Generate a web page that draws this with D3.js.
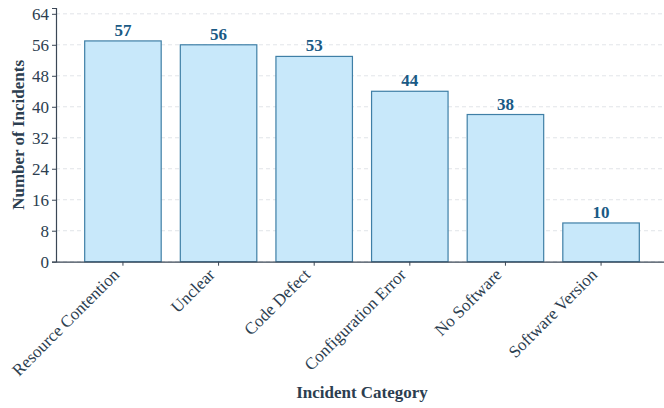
<!DOCTYPE html>
<html>
<head>
<meta charset="utf-8">
<script src="https://cdn.jsdelivr.net/npm/d3@7"></script>
<style>
  html, body { margin: 0; padding: 0; background: #fff; }
  svg { display: block; font-family: "Liberation Serif", "Times New Roman", serif; }
</style>
</head>
<body>
<svg id="chart" width="664" height="408"></svg>
<script>
// Incident counts by category
const categories = ["Resource Contention", "Unclear", "Code Defect", "Configuration Error", "No Software", "Software Version"];
const counts = [57, 56, 53, 44, 38, 10];
const yTicks = [0, 8, 16, 24, 32, 40, 48, 56, 64];

const svg = d3.select("#chart");
const plotLeft = 56, plotRight = 668, plotTop = 8, plotBottom = 261.7;

const x = d3.scaleBand()
  .domain(categories)
  .range([plotLeft, plotRight])
  .paddingInner(0.2)
  .paddingOuter(0.3);

const y = d3.scaleLinear()
  .domain([0, 65.5])
  .range([plotBottom, plotTop]);

// horizontal grid
svg.append("g")
  .selectAll("line")
  .data(yTicks)
  .join("line")
  .attr("x1", plotLeft)
  .attr("x2", 664)
  .attr("y1", d => y(d))
  .attr("y2", d => y(d))
  .attr("stroke", "#d9dde2")
  .attr("stroke-width", 0.8)
  .attr("stroke-dasharray", "4,3");

// bars
svg.append("g")
  .selectAll("rect")
  .data(categories)
  .join("rect")
  .attr("x", d => x(d))
  .attr("y", (d, i) => y(counts[i]))
  .attr("width", x.bandwidth())
  .attr("height", (d, i) => y(0) - y(counts[i]))
  .attr("fill", "#c8e8fa")
  .attr("stroke", "#3f7fa6")
  .attr("stroke-width", 1.2);

// value labels
svg.append("g")
  .selectAll("text")
  .data(categories)
  .join("text")
  .attr("x", d => x(d) + x.bandwidth() / 2)
  .attr("y", (d, i) => y(counts[i]) - 5)
  .attr("text-anchor", "middle")
  .attr("font-size", 17)
  .attr("font-weight", "bold")
  .attr("fill", "#1a5a85")
  .text((d, i) => counts[i]);

// y axis
const yAxis = svg.append("g")
  .attr("transform", `translate(${plotLeft},0)`)
  .call(d3.axisLeft(y).tickValues(yTicks).tickSize(4).tickPadding(3));
yAxis.select(".domain").attr("stroke", "#3b4756").attr("stroke-width", 1.2);
yAxis.selectAll(".tick line").attr("stroke", "#3b4756");
yAxis.selectAll(".tick text")
  .attr("font-family", "Liberation Serif, serif")
  .attr("font-size", 17)
  .attr("fill", "#2c3e50");

// x axis
const xAxis = svg.append("g")
  .attr("transform", `translate(0,${plotBottom})`)
  .call(d3.axisBottom(x).tickSize(4).tickSizeOuter(0).tickPadding(4));
xAxis.select(".domain").attr("stroke", "#3b4756").attr("stroke-width", 1.2);
xAxis.selectAll(".tick line").attr("stroke", "#3b4756");
xAxis.selectAll(".tick text")
  .attr("font-family", "Liberation Serif, serif")
  .attr("font-size", 17)
  .attr("fill", "#2c3e50")
  .attr("text-anchor", "end")
  .attr("dx", "-0.7em")
  .attr("dy", "0em")
  .attr("transform", "rotate(-45)");

// axis titles
svg.append("text")
  .attr("transform", `translate(24,${(plotTop + plotBottom) / 2}) rotate(-90)`)
  .attr("text-anchor", "middle")
  .attr("font-size", 17)
  .attr("font-weight", "bold")
  .attr("fill", "#2c3e50")
  .text("Number of Incidents");

svg.append("text")
  .attr("x", 362)
  .attr("y", 398)
  .attr("text-anchor", "middle")
  .attr("font-size", 17)
  .attr("font-weight", "bold")
  .attr("fill", "#2c3e50")
  .text("Incident Category");
</script>
</body>
</html>
